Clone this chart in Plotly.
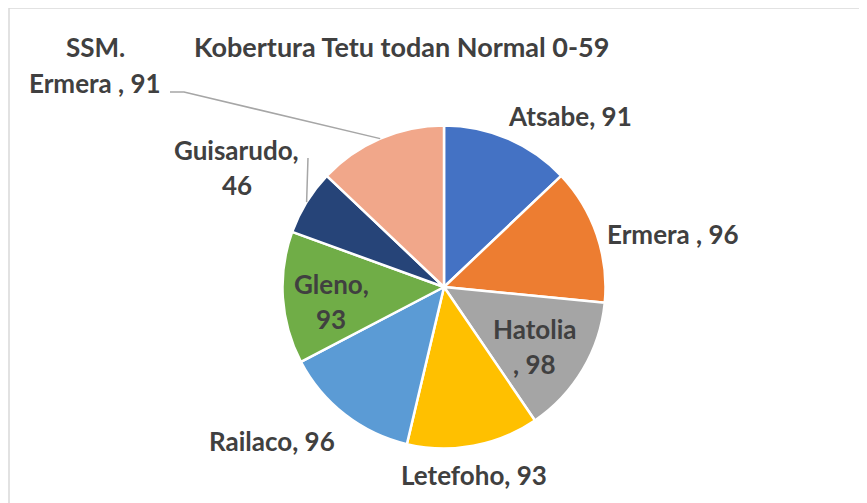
import math
import plotly.graph_objects as go

# ---- data ----
names = ["Atsabe", "Ermera ", "Hatolia", "Letefoho", "Railaco", "Gleno", "Guisarudo", "SSM. Ermera "]
values = [91, 96, 98, 93, 96, 93, 46, 91]
colors = ["#4472C4", "#ED7D31", "#A5A5A5", "#FFC000", "#5B9BD5", "#70AD47", "#264478", "#F1A78A"]
title_text = "Kobertura Tetu todan Normal 0-59"

# label text split into lines, as on the chart
label_lines = [
    ["Atsabe, 91"],
    ["Ermera , 96"],
    ["Hatolia", ", 98"],
    ["Letefoho, 93"],
    ["Railaco, 96"],
    ["Gleno,", "93"],
    ["Guisarudo,", "46"],
    ["SSM.", "Ermera , 91"],
]

# ---- layout geometry (page pixels) ----
W, H = 867, 503
OFF = 8  # page body margin: figure origin sits at (8, 8) on the page
CX, CY, R = 444, 287, 161.5
label_pos = [(570, 116), (673, 234), (534, 346), (474, 475), (272, 441), (331, 301), (237, 167), (95, 65)]
LINE_GAP = 35
TEXT_COLOR = "#404040"
FONT = "Lato"
FS = 26
TITLE_FS = 27


def px(x):
    return (x - OFF) / W


def py(y):
    return 1 - (y - OFF) / H


fig = go.Figure(go.Pie(
    labels=names,
    values=values,
    sort=False,
    direction="clockwise",
    rotation=0,
    marker=dict(colors=colors, line=dict(color="white", width=2.5)),
    textinfo="none",
    hoverinfo="label+value",
    showlegend=False,
    domain=dict(x=[px(CX - R), px(CX + R)], y=[py(CY + R), py(CY - R)]),
))

annotations = []
for lines, (lx, ly) in zip(label_lines, label_pos):
    n = len(lines)
    for i, t in enumerate(lines):
        yy = ly + (i - (n - 1) / 2) * LINE_GAP
        annotations.append(dict(
            x=px(lx), y=py(yy), xref="paper", yref="paper", text=t, showarrow=False,
            xanchor="center", yanchor="middle",
            font=dict(family=FONT, size=FS, color=TEXT_COLOR, weight="bold"),
        ))

annotations.append(dict(
    x=px(401), y=py(47), xref="paper", yref="paper", text=title_text, showarrow=False,
    xanchor="center", yanchor="middle",
    font=dict(family=FONT, size=TITLE_FS, color=TEXT_COLOR, weight="bold"),
))

# leader lines to slice edges at their mid angles
total = sum(values)
cum = [sum(values[:i]) for i in range(len(values))]


def edge_point(i):
    ang = (cum[i] + values[i] / 2) / total * 2 * math.pi
    return CX + R * math.sin(ang), CY - R * math.cos(ang)


shapes = []
ex, ey = edge_point(7)  # SSM. Ermera
shapes.append(dict(type="path", xref="paper", yref="paper",
                   path=f"M {px(170)} {py(92)} L {px(184)} {py(92)} L {px(ex)} {py(ey)}",
                   line=dict(color="#A6A6A6", width=1.5)))
ex, ey = edge_point(6)  # Guisarudo
shapes.append(dict(type="line", xref="paper", yref="paper",
                   x0=px(308), y0=py(158), x1=px(ex), y1=py(ey),
                   line=dict(color="#A6A6A6", width=1.5)))
# chart frame
shapes.append(dict(type="rect", xref="paper", yref="paper",
                   x0=px(9), y0=py(H + 20), x1=px(W + 20), y1=py(8),
                   line=dict(color="#D9D9D9", width=1.5)))

fig.update_layout(
    width=W, height=H,
    margin=dict(l=0, r=0, t=0, b=0),
    paper_bgcolor="white",
    plot_bgcolor="white",
    annotations=annotations,
    shapes=shapes,
)

fig.write_html("out.html")
